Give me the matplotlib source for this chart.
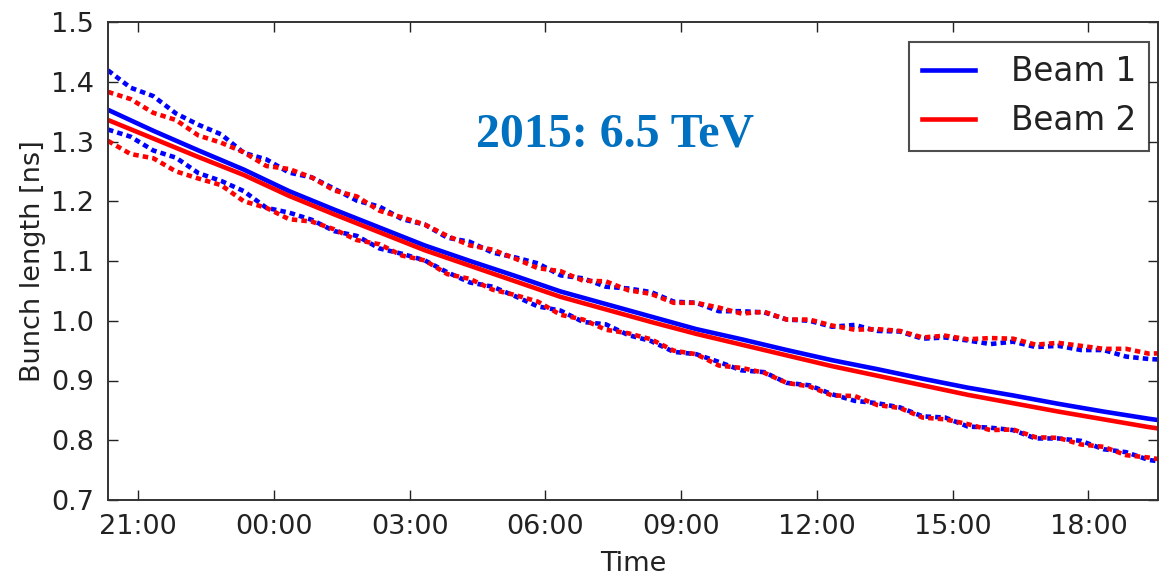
import matplotlib
matplotlib.use("Agg")
import matplotlib.pyplot as plt
import matplotlib.dates as mdates
import pandas as pd

# dashed curves, sampled every 30 min from 20:20
t_dash = pd.date_range("2015-06-01 20:20", periods=48, freq="30min")
b1_upper = [1.419, 1.390, 1.376, 1.347, 1.328, 1.312, 1.281, 1.270, 1.248, 1.240,
            1.221, 1.201, 1.191, 1.170, 1.161, 1.139, 1.132, 1.114, 1.106, 1.096,
            1.076, 1.071, 1.057, 1.054, 1.048, 1.032, 1.030, 1.016, 1.016, 1.014,
            1.002, 1.000, 0.990, 0.993, 0.983, 0.982, 0.970, 0.972, 0.967, 0.961,
            0.965, 0.956, 0.958, 0.951, 0.951, 0.940, 0.936, 0.934]
b2_upper = [1.383, 1.371, 1.348, 1.336, 1.310, 1.298, 1.282, 1.259, 1.254, 1.240,
            1.218, 1.208, 1.184, 1.173, 1.161, 1.142, 1.126, 1.119, 1.104, 1.088,
            1.083, 1.067, 1.066, 1.051, 1.045, 1.030, 1.030, 1.022, 1.012, 1.015,
            1.002, 1.002, 0.992, 0.985, 0.986, 0.983, 0.972, 0.975, 0.969, 0.971,
            0.970, 0.960, 0.963, 0.958, 0.953, 0.953, 0.945, 0.946]
b1_lower = [1.320, 1.308, 1.285, 1.273, 1.247, 1.234, 1.217, 1.189, 1.181, 1.169,
            1.150, 1.142, 1.121, 1.112, 1.101, 1.081, 1.064, 1.057, 1.041, 1.024,
            1.017, 0.998, 0.994, 0.976, 0.966, 0.948, 0.944, 0.931, 0.917, 0.914,
            0.896, 0.892, 0.877, 0.866, 0.862, 0.855, 0.840, 0.838, 0.823, 0.821,
            0.817, 0.803, 0.803, 0.799, 0.785, 0.780, 0.767, 0.762]
b2_lower = [1.301, 1.279, 1.272, 1.250, 1.238, 1.227, 1.200, 1.189, 1.170, 1.166,
            1.153, 1.135, 1.128, 1.109, 1.101, 1.078, 1.070, 1.052, 1.043, 1.032,
            1.010, 1.002, 0.985, 0.979, 0.969, 0.950, 0.944, 0.925, 0.921, 0.913,
            0.896, 0.890, 0.875, 0.874, 0.859, 0.854, 0.838, 0.835, 0.827, 0.817,
            0.818, 0.805, 0.804, 0.793, 0.789, 0.775, 0.771, 0.765]

# solid curves, hourly from 20:20
t_mean = pd.date_range("2015-06-01 20:20", periods=25, freq="h")
b1_mean = [1.353, 1.318, 1.285, 1.253, 1.217, 1.186, 1.156, 1.126, 1.100, 1.075,
           1.049, 1.028, 1.007, 0.986, 0.969, 0.951, 0.934, 0.919, 0.903, 0.888,
           0.875, 0.861, 0.848, 0.836, 0.825]
b2_mean = [1.336, 1.305, 1.274, 1.244, 1.209, 1.178, 1.148, 1.118, 1.092, 1.066,
           1.040, 1.019, 0.998, 0.978, 0.960, 0.942, 0.924, 0.908, 0.892, 0.876,
           0.862, 0.848, 0.835, 0.822, 0.811]

yticks = [0.7, 0.8, 0.9, 1.0, 1.1, 1.2, 1.3, 1.4, 1.5]

blue = "#0000ff"
red = "#ff0000"
lw = 3.3
dash = (1.2, 0.9)

fig = plt.figure(figsize=(11.59, 5.78), dpi=100)
ax = fig.add_axes([108 / 1159, 78 / 578, 1.0 - 108 / 1159 - 0.001, 478 / 578])

ax.plot(t_dash, b1_upper, color=blue, lw=lw, dashes=dash)
ax.plot(t_dash, b2_upper, color=red, lw=lw, dashes=dash)
ax.plot(t_dash, b1_lower, color=blue, lw=lw, dashes=dash)
ax.plot(t_dash, b2_lower, color=red, lw=lw, dashes=dash)
ax.plot(t_mean, b1_mean, color=blue, lw=lw, label="Beam 1")
ax.plot(t_mean, b2_mean, color=red, lw=lw, label="Beam 2")

ax.set_xlim(pd.Timestamp("2015-06-01 20:20"), pd.Timestamp("2015-06-02 19:32"))
ax.set_ylim(0.7, 1.5)
ax.set_yticks(yticks)
ax.set_yticklabels([f"{v:.1f}" for v in yticks])
ax.xaxis.set_major_locator(mdates.HourLocator(byhour=range(0, 24, 3)))
ax.xaxis.set_major_formatter(mdates.DateFormatter("%H:%M"))

fs = 19.5
ax.tick_params(direction="in", length=7, width=1, top=True, right=True,
               labelsize=fs, colors="#222222", pad=10)
for s in ax.spines.values():
    s.set_linewidth(1.4)
    s.set_color("#333333")

ax.set_xlabel("Time", fontsize=fs, color="#222222", labelpad=8)
ax.set_ylabel("Bunch length [ns]", fontsize=fs, color="#222222", labelpad=4)

ax.text(0.483, 0.764, "2015: 6.5 TeV", transform=ax.transAxes,
        ha="center", va="center", fontsize=34.5, fontweight="bold",
        family="Liberation Serif", color="#0070c0")

leg = ax.legend(loc="upper right", fontsize=23.5, fancybox=False,
                handlelength=1.6, handletextpad=1.1, borderpad=0.4,
                labelspacing=0.5, borderaxespad=0,
                bbox_to_anchor=(0.9914, 0.958))
leg.get_frame().set_edgecolor("#222222")
leg.get_frame().set_linewidth(1.5)
for txt in leg.get_texts():
    txt.set_color("#222222")

fig.savefig("out.png", dpi=100)
